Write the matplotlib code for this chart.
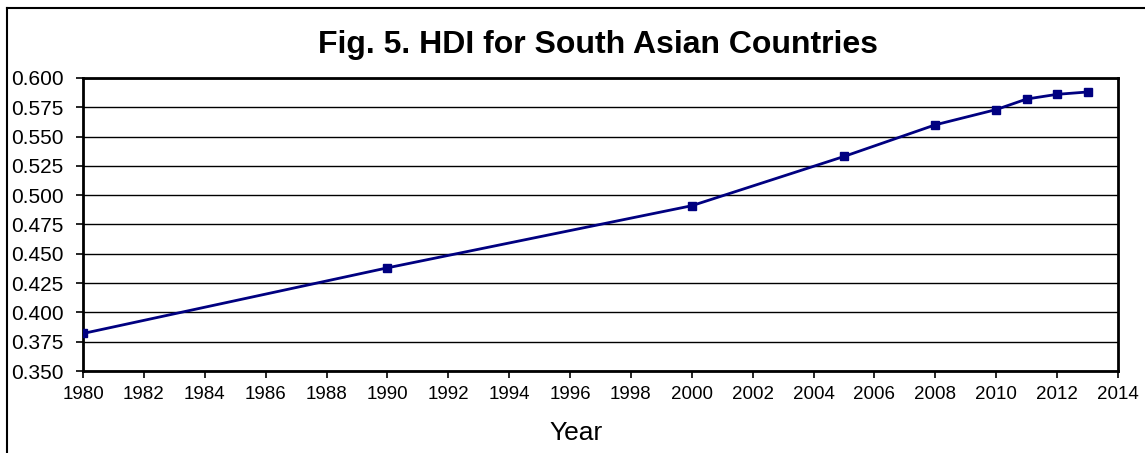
import matplotlib
matplotlib.use("Agg")
import matplotlib.pyplot as plt
from matplotlib.lines import Line2D
import numpy as np

plt.rcParams['font.family'] = ['Liberation Sans', 'DejaVu Sans']

years = [1980, 1990, 2000, 2005, 2008, 2010, 2011, 2012, 2013]
hdi = [0.382, 0.438, 0.491, 0.533, 0.560, 0.573, 0.582, 0.586, 0.588]
xticks = list(range(1980, 2015, 2))
yticks = [0.350, 0.375, 0.400, 0.425, 0.450, 0.475, 0.500, 0.525, 0.550, 0.575, 0.600]

fig = plt.figure(figsize=(11.45, 4.53), dpi=100)
ax = fig.add_axes([0.0725, 0.181, 0.9039, 0.647])

ax.plot(years, hdi, color='#000080', lw=2, marker='s', markersize=6, zorder=3)

ax.set_xlim(1980, 2014)
ax.set_ylim(0.350, 0.600)
ax.set_xticks(xticks)
ax.set_yticks(yticks)
ax.set_yticklabels([f"{v:.3f}" for v in yticks])
ax.yaxis.grid(True, color='black', lw=1)
ax.set_axisbelow(True)
ax.tick_params(axis='both', direction='out', length=5, width=1.2, color='black')
ax.tick_params(axis='x', pad=6, labelsize=13.5)
ax.tick_params(axis='y', pad=9, labelsize=15)
for s in ax.spines.values():
    s.set_linewidth(2)
    s.set_color('black')

ax.set_xlabel('Year', fontsize=19)
ax.xaxis.set_label_coords(0.476, -0.17)
fig.text(0.522, 0.90, 'Fig. 5. HDI for South Asian Countries', ha='center', va='center',
         fontsize=23, fontweight='bold')

# outer chart border (only top and left visible in the crop)
fig.add_artist(Line2D([0.0065, 1.0], [0.983, 0.983], transform=fig.transFigure, color='black', lw=1.5))
fig.add_artist(Line2D([0.0065, 0.0065], [0.0, 0.983], transform=fig.transFigure, color='black', lw=1.5))

fig.savefig('out.png', dpi=100)
